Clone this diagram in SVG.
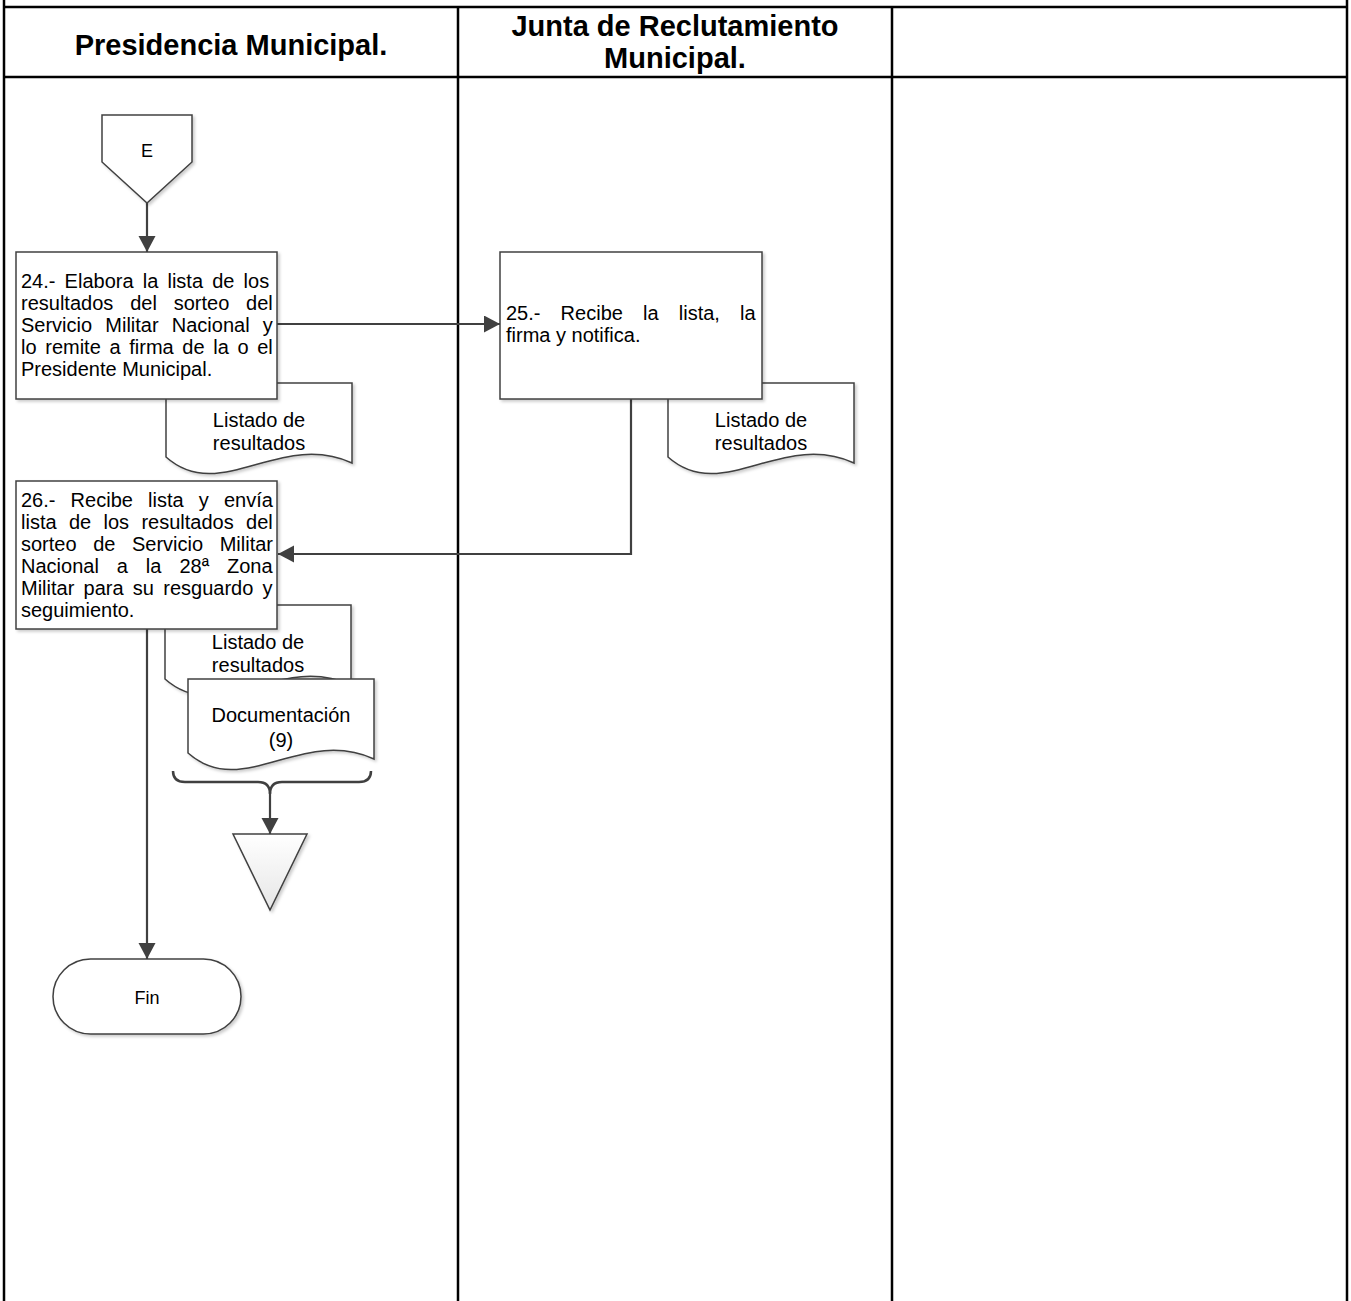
<svg xmlns="http://www.w3.org/2000/svg" xmlns:xlink="http://www.w3.org/1999/xlink" width="1351" height="1301" viewBox="0 0 1351 1301">
<style>
.tbl{stroke:#000;stroke-width:2.5;fill:none}
.hdr{font-family:"Liberation Sans",Arial,sans-serif;font-weight:bold;font-size:29px;fill:#000;text-anchor:middle}
.shape{fill:#fff;stroke:#404040;stroke-width:1.5;filter:url(#sh)}
.txt{font-family:"Liberation Sans",Arial,sans-serif;font-size:20px;fill:#000}
.ctr{text-anchor:middle}
.small{font-family:"Liberation Sans",Arial,sans-serif;font-size:18px;fill:#000;text-anchor:middle}
.conn{stroke:#404040;stroke-width:2.2;fill:none}
</style>
<defs>
<filter id="sh" x="-10%" y="-10%" width="130%" height="130%">
<feDropShadow dx="2" dy="2" stdDeviation="1.5" flood-color="#000" flood-opacity="0.2"/>
</filter>
<marker id="arr" markerUnits="userSpaceOnUse" markerWidth="18" markerHeight="18" refX="16" refY="8.5" orient="auto">
<path d="M0,0 L16,8.5 L0,17 z" fill="#404040"/>
</marker>
<linearGradient id="tg" x1="0" y1="0" x2="0" y2="1">
<stop offset="0" stop-color="#ffffff"/>
<stop offset="1" stop-color="#e6e6e6"/>
</linearGradient>
<path id="doc" d="M0,0 H186 V80 C114,47 54,122 0,74 Z"/>
</defs>
<rect width="1351" height="1301" fill="#fff"/>
<g id="table">
<line class="tbl" x1="4" y1="0" x2="4" y2="1301"/>
<line class="tbl" x1="1347" y1="0" x2="1347" y2="1301"/>
<line class="tbl" x1="4" y1="7" x2="1347" y2="7"/>
<line class="tbl" x1="4" y1="77" x2="1347" y2="77"/>
<line class="tbl" x1="458" y1="7" x2="458" y2="1301"/>
<line class="tbl" x1="892" y1="7" x2="892" y2="1301"/>
<text class="hdr" x="231" y="55">Presidencia Municipal.</text>
<text class="hdr" x="675" y="36">Junta de Reclutamiento</text>
<text class="hdr" x="675" y="68">Municipal.</text>
</g>
<g id="connectors">
<line class="conn" x1="147" y1="203" x2="147" y2="252" marker-end="url(#arr)"/>
<line class="conn" x1="277" y1="324" x2="500" y2="324" marker-end="url(#arr)"/>
<polyline class="conn" points="631,399 631,554 278,554" marker-end="url(#arr)"/>
<line class="conn" x1="147" y1="629" x2="147" y2="959" marker-end="url(#arr)"/>
<path class="conn" style="stroke-width:2.5" d="M173,771 Q173,782 185,782 H258 Q270,782 270,794 Q270,782 282,782 H359 Q371,782 371,771"/>
<line class="conn" x1="270" y1="792" x2="270" y2="834" marker-end="url(#arr)"/>
</g>
<g id="nodeE">
<polygon class="shape" points="102,115 192,115 192,162 147,203 102,162"/>
<text class="small" x="147" y="157">E</text>
</g>
<g id="doc1">
<use href="#doc" x="166" y="383" class="shape"/>
<text class="txt ctr" x="259" y="427">Listado de</text>
<text class="txt ctr" x="259" y="450">resultados</text>
</g>
<g id="doc2">
<use href="#doc" x="668" y="383" class="shape"/>
<text class="txt ctr" x="761" y="427">Listado de</text>
<text class="txt ctr" x="761" y="450">resultados</text>
</g>
<g id="doc3">
<use href="#doc" x="165" y="605" class="shape"/>
<text class="txt ctr" x="258" y="649">Listado de</text>
<text class="txt ctr" x="258" y="672">resultados</text>
</g>
<g id="doc4">
<use href="#doc" x="188" y="679" class="shape"/>
<text class="txt ctr" x="281" y="722">Documentación</text>
<text class="txt ctr" x="281" y="747">(9)</text>
</g>
<g id="step24">
<rect class="shape" x="16" y="252" width="261" height="147"/>
<text class="txt" x="21" y="288" word-spacing="3.6">24.- Elabora la lista de los</text>
<text class="txt" x="21" y="310" word-spacing="11.3">resultados del sorteo del</text>
<text class="txt" x="21" y="332" word-spacing="7.6">Servicio Militar Nacional y</text>
<text class="txt" x="21" y="354" word-spacing="3.1">lo remite a firma de la o el</text>
<text class="txt" x="21" y="376">Presidente Municipal.</text>
</g>
<g id="step25">
<rect class="shape" x="500" y="252" width="262" height="147"/>
<text class="txt" x="506" y="320" word-spacing="14.6">25.- Recibe la lista, la</text>
<text class="txt" x="506" y="342">firma y notifica.</text>
</g>
<g id="step26">
<rect class="shape" x="16" y="481" width="261" height="148"/>
<text class="txt" x="21" y="507" word-spacing="9.6">26.- Recibe lista y envía</text>
<text class="txt" x="21" y="529" word-spacing="6.8">lista de los resultados del</text>
<text class="txt" x="21" y="551" word-spacing="11">sorteo de Servicio Militar</text>
<text class="txt" x="21" y="573" word-spacing="12.4">Nacional a la 28ª Zona</text>
<text class="txt" x="21" y="595" word-spacing="3.7">Militar para su resguardo y</text>
<text class="txt" x="21" y="617">seguimiento.</text>
</g>
<g id="merge">
<polygon points="233,834 307,834 270,910" fill="url(#tg)" stroke="#404040" stroke-width="1.5" filter="url(#sh)"/>
</g>
<g id="fin">
<rect class="shape" x="53" y="959" width="188" height="75" rx="37.5" ry="37.5"/>
<text class="small" x="147" y="1004">Fin</text>
</g>
</svg>
